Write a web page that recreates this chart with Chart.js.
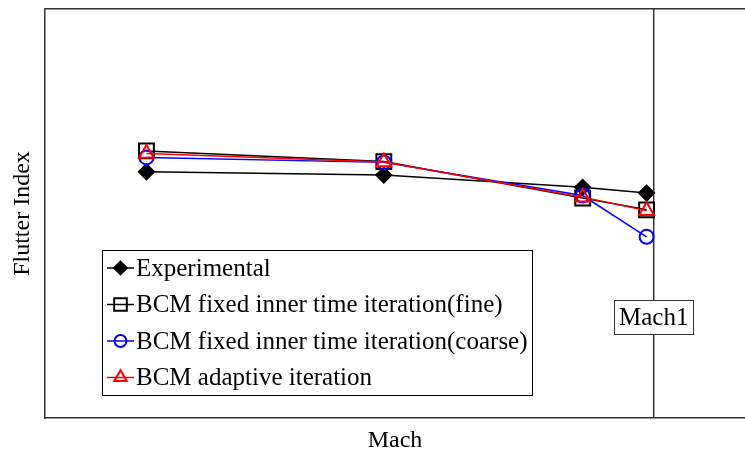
<!DOCTYPE html>
<html>
<head>
<meta charset="utf-8">
<script src="https://cdn.jsdelivr.net/npm/chart.js@4/dist/chart.umd.min.js"></script>
<style>
  html, body { margin: 0; padding: 0; background: #fff; overflow: hidden; }
  canvas { display: block; }
</style>
</head>
<body>
<canvas id="flutterChart" width="745" height="457"></canvas>
<script>
// values (no tick labels on the original, scale is relative)
var machs = [0.5, 0.734, 0.93, 0.993];
var experimental = [0.602, 0.594, 0.564, 0.550];
var bcmFine = [0.653, 0.627, 0.538, 0.509];
var bcmCoarse = [0.637, 0.625, 0.544, 0.443];
var bcmAdaptive = [0.647, 0.626, 0.540, 0.507];
var mach1 = 1.0;
var mach1LabelY = 0.247;

var serif = 'Liberation Serif';

function pts(values) {
    return machs.map(function (m, i) { return { x: m, y: values[i] }; });
}

var seriesStyle = [
    { label: 'Experimental', data: experimental, color: '#000000', pointStyle: 'rectRot', radius: 7.5, fill: '#000000' },
    { label: 'BCM fixed inner time iteration(fine)', data: bcmFine, color: '#000000', pointStyle: 'rect', radius: 10.5, fill: 'rgba(0,0,0,0)' },
    { label: 'BCM fixed inner time iteration(coarse)', data: bcmCoarse, color: '#0000ff', pointStyle: 'circle', radius: 7, fill: 'rgba(0,0,0,0)' },
    { label: 'BCM adaptive iteration', data: bcmAdaptive, color: '#ff0000', pointStyle: 'triangle', radius: 8.5, fill: 'rgba(0,0,0,0)' }
];

var datasets = seriesStyle.map(function (s, i) {
    return {
        label: s.label,
        data: pts(s.data),
        borderColor: s.color,
        borderWidth: 1.5,
        pointStyle: s.pointStyle,
        pointRadius: s.radius,
        pointBorderWidth: 2,
        pointBorderColor: s.color,
        pointBackgroundColor: s.fill,
        fill: false,
        tension: 0,
        order: 4 - i
    };
});

datasets.push({
    label: 'Mach1',
    data: [{ x: mach1, y: 0 }, { x: mach1, y: 1 }],
    borderColor: '#333333',
    borderWidth: 1.5,
    pointRadius: 0,
    order: 10
});

function marker(ctx, style, x, y) {
    ctx.save();
    ctx.strokeStyle = style.color;
    ctx.fillStyle = style.fill;
    ctx.lineWidth = 2;
    Chart.helpers.drawPoint(ctx, { pointStyle: style.pointStyle, radius: style.radius * 0.85, rotation: 0, borderWidth: 2 }, x, y);
    ctx.restore();
}

var overlay = {
    id: 'overlay',
    afterDraw: function (chart) {
        var ctx = chart.ctx;
        var xs = chart.scales.x, ys = chart.scales.y;

        // Mach1 label box
        ctx.save();
        ctx.font = '25px "' + serif + '"';
        ctx.textAlign = 'center';
        ctx.textBaseline = 'middle';
        var lx = xs.getPixelForValue(mach1);
        var ly = ys.getPixelForValue(mach1LabelY);
        var tw = ctx.measureText('Mach1').width;
        ctx.fillStyle = '#fff';
        ctx.fillRect(lx - tw / 2 - 5, ly - 17, tw + 10, 34);
        ctx.strokeStyle = '#333';
        ctx.lineWidth = 1;
        ctx.strokeRect(Math.round(lx - tw / 2 - 5) + 0.5, Math.round(ly - 17) + 0.5, Math.round(tw + 10), 34);
        ctx.fillStyle = '#000';
        ctx.fillText('Mach1', lx, ly + 1);
        ctx.restore();

        // legend box
        ctx.save();
        var bx = 102, by = 250, bw = 430, bh = 145;
        ctx.fillStyle = '#fff';
        ctx.fillRect(bx, by, bw, bh);
        ctx.strokeStyle = '#000';
        ctx.lineWidth = 1;
        ctx.strokeRect(bx + 0.5, by + 0.5, bw, bh);
        ctx.font = '25px "' + serif + '"';
        ctx.textAlign = 'left';
        ctx.textBaseline = 'middle';
        seriesStyle.forEach(function (s, i) {
            var y = by + 18 + i * 36.5;
            ctx.strokeStyle = s.color;
            ctx.lineWidth = 1.5;
            ctx.beginPath();
            ctx.moveTo(107, y);
            ctx.lineTo(134, y);
            ctx.stroke();
            marker(ctx, s, 120.5, y);
            ctx.fillStyle = '#000';
            ctx.fillText(s.label, 136, y + 1);
        });
        ctx.restore();
    }
};

var axisBorder = { display: true, color: '#333333', width: 1.5 };

new Chart(document.getElementById('flutterChart').getContext('2d'), {
    type: 'line',
    data: { datasets: datasets },
    options: {
        responsive: false,
        animation: false,
        devicePixelRatio: 1,
        layout: { padding: 0, autoPadding: false },
        plugins: {
            legend: { display: false },
            tooltip: { enabled: false }
        },
        scales: {
            x: {
                type: 'linear',
                position: 'bottom',
                min: 0.4,
                max: 1.09,
                ticks: { display: false },
                grid: { display: false },
                border: axisBorder,
                title: {
                    display: true,
                    text: 'Mach',
                    color: '#000',
                    font: { family: serif, size: 24 },
                    padding: { top: 0, bottom: 2 }
                },
                afterFit: function (s) { s.height = 39; }
            },
            x2: {
                type: 'linear',
                axis: 'x',
                position: 'top',
                min: 0.4,
                max: 1.09,
                ticks: { display: false },
                grid: { display: false },
                border: axisBorder,
                afterFit: function (s) { s.height = 9; }
            },
            y: {
                type: 'linear',
                position: 'left',
                min: 0,
                max: 1,
                ticks: { display: false },
                grid: { display: false },
                border: axisBorder,
                title: {
                    display: true,
                    text: 'Flutter Index',
                    color: '#000',
                    font: { family: serif, size: 24 },
                    padding: { top: 8, bottom: 0 }
                },
                afterFit: function (s) { s.width = 45; }
            }
        }
    },
    plugins: [overlay]
});
</script>
</body>
</html>
